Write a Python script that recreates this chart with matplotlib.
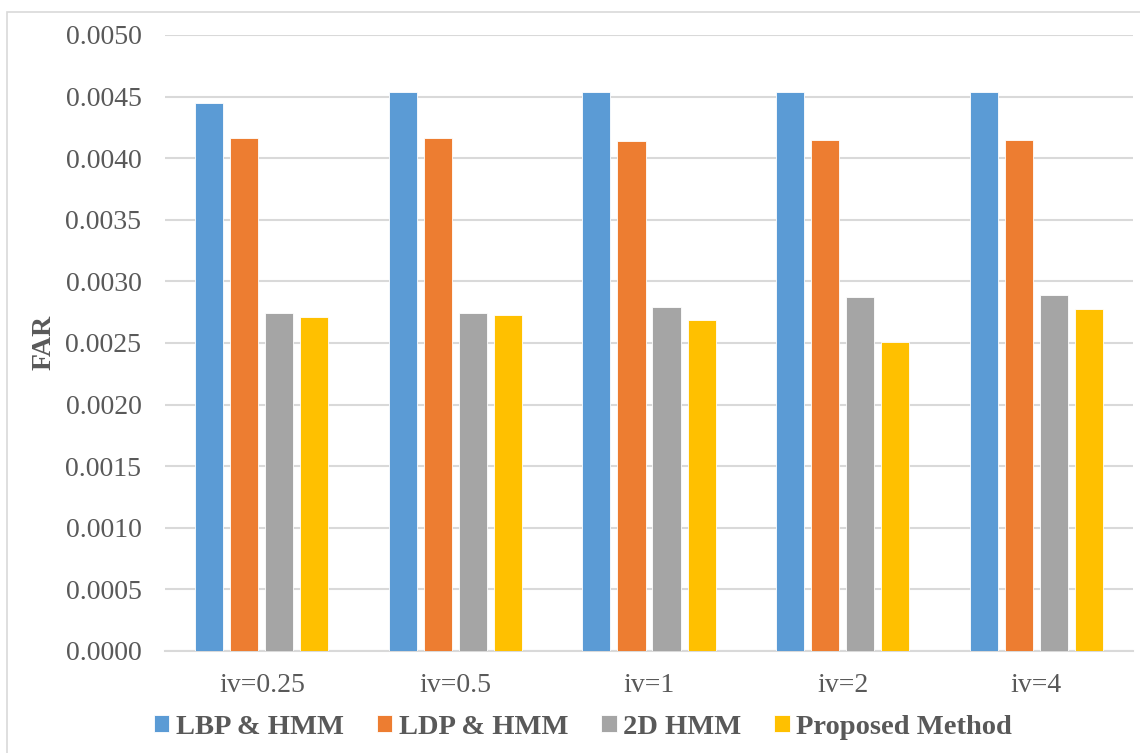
import numpy as np
import matplotlib.pyplot as plt
from matplotlib.patches import Rectangle

# Datos
categorias = ['iv=0.25', 'iv=0.5', 'iv=1', 'iv=2', 'iv=4']
series = ['LBP & HMM', 'LDP & HMM', '2D HMM', 'Proposed Method']
lbp_hmm = [0.00445, 0.00454, 0.00454, 0.00454, 0.00454]
ldp_hmm = [0.00416, 0.00416, 0.00414, 0.00415, 0.00415]
hmm_2d = [0.00274, 0.00274, 0.00279, 0.00287, 0.00289]
propuesto = [0.00271, 0.00273, 0.00269, 0.00251, 0.00278]
colores = ['#5B9BD5', '#ED7D31', '#A5A5A5', '#FFC000']

plt.rcParams['font.family'] = ['Liberation Serif', 'DejaVu Serif']
gris_txt = '#595959'

fig = plt.figure(figsize=(11.4, 7.53), dpi=100)
ax = fig.add_axes([165 / 1140, 102 / 753, 968 / 1140, 616 / 753])

x = np.arange(len(categorias))
paso = 0.181
ancho = 0.145
valores = [lbp_hmm, ldp_hmm, hmm_2d, propuesto]
for i, (nombre, vals) in enumerate(zip(series, valores)):
    ax.bar(x + (i - 1.5) * paso, vals, ancho, color=colores[i], label=nombre,
           edgecolor='white', linewidth=0.6, zorder=3)

ax.set_xlim(-0.5, len(categorias) - 0.5)
ax.set_ylim(0, 0.005)
ax.set_yticks(np.arange(0, 0.00501, 0.0005))
ax.set_yticklabels([f'{v:.4f}' for v in np.arange(0, 0.00501, 0.0005)])
ax.set_xticks(x)
ax.set_xticklabels(categorias)
ax.tick_params(axis='y', length=0, pad=17, labelsize=20, labelcolor=gris_txt)
ax.tick_params(axis='x', length=0, pad=16, labelsize=20, labelcolor=gris_txt)

ax.grid(axis='y', color='#D9D9D9', linewidth=1.5, zorder=0)
for lado in ['top', 'right', 'left']:
    ax.spines[lado].set_visible(False)
ax.spines['bottom'].set_color('#D9D9D9')
ax.spines['bottom'].set_linewidth(1.5)

fig.text(44 / 1140, 1 - 342 / 753, 'FAR', rotation=90, ha='center', va='center',
         fontsize=20, fontweight='bold', color=gris_txt)

leg = fig.legend(loc='center', bbox_to_anchor=(583 / 1140, 1 - 727 / 753), ncol=4,
                 frameon=False, handlelength=0.55, handleheight=0.55,
                 handletextpad=0.23, columnspacing=1.15,
                 prop={'size': 20.5, 'weight': 'bold'})
for t in leg.get_texts():
    t.set_color(gris_txt)

# Borde del area del grafico
fig.patches.append(Rectangle((7 / 1140, -0.1), 1.2, 1 - 12 / 753 + 0.1,
                             transform=fig.transFigure, fill=False,
                             edgecolor='#D9D9D9', linewidth=1.2))

fig.savefig('out.png', dpi=100)
